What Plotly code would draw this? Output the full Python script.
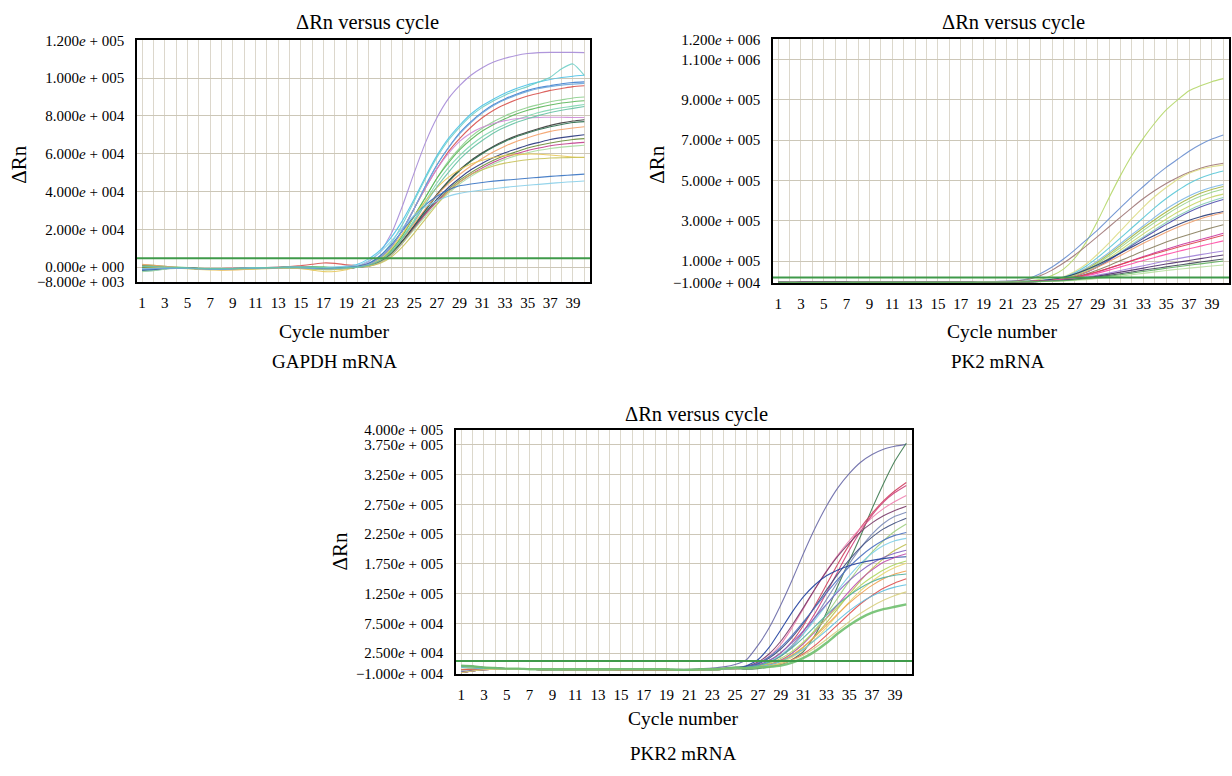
import plotly.graph_objects as go

# ---------------- DATA (values in thousands of ΔRn) ----------------
cycles = list(range(1, 41))
x_tick_vals = [1, 3, 5, 7, 9, 11, 13, 15, 17, 19, 21, 23, 25, 27, 29, 31, 33, 35, 37, 39]
x_tick_text = [str(v) for v in x_tick_vals]

# GAPDH mRNA
gapdh_01 = [-1.5,-1.2,-0.6,-0.4,-0.6,-0.9,-1.1,-1.0,-0.8,-0.6,-0.5,-0.4,-0.3,-0.1,0.1,0.0,-0.4,-0.8,-0.5, 0.5,3,8,18,33,50,66,79,89,96,101.5,105.5,108.5,110.5,112,113,113.5,113.6,113.6,113.6,113.5]
gapdh_02 = [-2.0,-1.6,-0.9,-0.5,-0.4,-0.7,-1.0,-1.1,-1.0,-0.8,-0.6,-0.5,-0.4,-0.3,-0.2,-0.4,-0.6,-0.3,0.4, 1.5,4.5,9,16,25,36,48,59,68,75,81,85.5,89,92,94.5,96.5,98,99.3,100.3,101,101.5]
gapdh_03 = [-0.8,-0.5,-0.3,-0.4,-0.7,-1.0,-1.2,-1.1,-0.9,-0.7,-0.6,-0.5,-0.4,-0.3,-0.4,-0.6,-0.9,-0.7,-0.3, 0.2,2,6,13,23,35,47,58,67,74,80,84.5,88,91,93.5,95.5,98,100.5,105,107.5,101.5]
gapdh_04 = [-2.2,-1.8,-1.0,-0.6,-0.5,-0.8,-1.0,-1.2,-1.1,-0.9,-0.7,-0.6,-0.4,-0.3,-0.5,-0.8,-1.2,-1.0,-0.5, 0,1.5,5,11,20,31,43,54,63,71,77,82,86,89,91.5,93.5,95,96,97,97.7,98]
gapdh_05 = [0.8,0.5,0.0,-0.3,-0.5,-0.7,-0.8,-0.7,-0.6,-0.5,-0.3,-0.2,0.0,0.3,0.8,1.5,2.2,2.0,1.2, 0.8,1.8,5,11,20,31,42,52,61,68,74,79,83,86,88.5,90.5,92,93.5,94.5,95.5,96]
gapdh_06 = [-1.0,-0.7,-0.4,-0.3,-0.5,-0.8,-1.0,-0.9,-0.7,-0.5,-0.3,-0.2,-0.2,-0.1,-0.3,-0.6,-0.9,-0.8,-0.4, 0,1,4,9.5,17,27,37,47,56,63,69,73.5,77,80,82.5,84.5,86,87.5,88.5,89.5,90]
gapdh_07 = [1.2,0.9,0.4,0.0,-0.3,-0.6,-0.8,-0.8,-0.7,-0.6,-0.4,-0.3,-0.2,0.0,0.2,0.3,0.1,-0.2,-0.3, 0,1,3.5,9,17,27,37,47,55,62,67.5,72,75.5,78.5,81,83,84.5,85.8,86.8,87.5,88]
gapdh_08 = [-1.8,-1.4,-0.8,-0.5,-0.6,-0.9,-1.2,-1.3,-1.2,-1.0,-0.8,-0.6,-0.5,-0.4,-0.6,-0.9,-1.3,-1.1,-0.6, 0,1,3.5,8,16,25,35,44.5,52.5,59,64.5,69,72.5,75.5,78,80,81.8,83.2,84.3,85.2,86]
gapdh_09 = [-0.5,-0.4,-0.3,-0.4,-0.6,-0.8,-0.9,-0.8,-0.6,-0.4,-0.3,-0.3,-0.2,-0.1,0.0,-0.2,-0.5,-0.4,-0.2, 0,1.5,5,11,20,31,42,52,60,66.5,71,74,76,77.5,78.5,79,79.2,79.3,79.3,79.2,79.2]
gapdh_10 = [-1.2,-1.0,-0.6,-0.5,-0.6,-0.8,-1.0,-1.0,-0.9,-0.7,-0.5,-0.4,-0.3,-0.2,-0.4,-0.7,-1.0,-0.9,-0.5, 0,0.8,3,7.5,14,22,30.5,38.5,45.5,51.5,56.5,60.5,64,67,69.5,71.5,73.3,75,76.3,77.3,78]
gapdh_11 = [-0.6,-0.5,-0.4,-0.5,-0.7,-0.9,-1.1,-1.1,-1.0,-0.8,-0.6,-0.4,-0.3,-0.3,-0.5,-0.8,-1.1,-1.0,-0.6, 0,0.8,3,7.5,14,22,30,38,45,51,56,60,63.5,66.5,69,71,72.8,74.3,75.5,76.5,77]
gapdh_12 = [1.5,1.0,0.4,-0.1,-0.5,-0.9,-1.3,-1.5,-1.4,-1.2,-0.9,-0.6,-0.4,-0.2,-0.2,-0.5,-1.0,-1.2,-0.8, 0.2,1,3.5,8,15,23,31,38,44,49,53.5,57.5,61,64,66.5,68.5,70.3,71.8,72.8,73.6,74.3]
gapdh_13 = [-1.6,-1.3,-0.8,-0.5,-0.5,-0.7,-0.9,-0.9,-0.8,-0.6,-0.5,-0.4,-0.3,-0.2,-0.3,-0.5,-0.8,-0.8,-0.5, 0,0.8,3,7.5,14,21.5,29,36,42,47,51.5,55,58,60.5,62.5,64.5,66,67.5,68.5,69.3,70]
gapdh_14 = [-0.3,-0.2,-0.2,-0.3,-0.5,-0.7,-0.8,-0.8,-0.7,-0.5,-0.4,-0.3,-0.2,-0.1,-0.1,-0.3,-0.6,-0.6,-0.4, 0,0.8,3,7,13.5,21,28.5,35,41,46,50,53.5,56.5,59,61,63,64.5,65.7,66.7,67.5,68]
gapdh_15 = [-1.0,-0.8,-0.5,-0.4,-0.5,-0.7,-0.9,-0.9,-0.8,-0.6,-0.5,-0.4,-0.3,-0.2,-0.2,-0.4,-0.7,-0.7,-0.5, 0,0.5,2.5,6.5,13,20.5,28,34.5,40,45,49,52.5,55.5,58,60,61.7,63,64.2,65,65.6,66]
gapdh_16 = [-2.4,-1.9,-1.1,-0.7,-0.6,-0.8,-1.0,-1.1,-1.2,-1.1,-0.9,-0.7,-0.5,-0.4,-0.6,-1.0,-1.4,-1.3,-0.8, 0,0.5,2.5,6.5,13,20,27,33.5,39,44,48,51.5,54.5,57,59,60.5,61.8,62.8,63.5,64,64.5]
gapdh_17 = [0.3,0.1,-0.2,-0.5,-0.8,-1.2,-1.5,-1.6,-1.5,-1.3,-1.0,-0.8,-0.6,-0.5,-0.9,-1.6,-2.4,-2.3,-1.4, 0.5,1.5,4.5,10,18,27,35,42,47.5,51.5,54.5,56.5,58,59,59.5,59.8,59.7,59.3,58.8,58.3,58]
gapdh_18 = [-0.9,-0.7,-0.5,-0.5,-0.6,-0.8,-1.0,-1.0,-0.9,-0.7,-0.6,-0.4,-0.3,-0.3,-0.5,-0.9,-1.3,-1.2,-0.7, 0,0.5,2,5.5,11,18,25.5,33,40,45,49,51.5,53.5,55,56,56.8,57.3,57.7,57.9,58,58.1]
gapdh_19 = [-1.4,-1.1,-0.7,-0.5,-0.6,-0.8,-1.0,-1.0,-0.8,-0.6,-0.4,-0.3,-0.2,-0.1,-0.2,-0.4,-0.6,-0.4,0.0, 0.5,2,6,12,19.5,27,33,37.5,40.8,43,44,44.8,45.5,46,46.5,47,47.5,48,48.4,48.8,49.2]
gapdh_20 = [-0.7,-0.6,-0.4,-0.4,-0.6,-0.8,-0.9,-0.9,-0.7,-0.5,-0.3,-0.2,-0.1,0.0,0.0,-0.1,-0.2,0.1,0.5, 1,3.5,8,14,21,27.5,32,35,37.5,39,40,40.8,41.5,42.2,42.8,43.3,43.8,44.3,44.8,45.2,45.6]
gapdh_21 = [-1.1,-0.9,-0.6,-0.5,-0.6,-0.9,-1.1,-1.2,-1.0,-0.8,-0.6,-0.5,-0.4,-0.3,-0.4,-0.7,-1.0,-0.8,-0.4, 0,1.5,5,11,20,31,43,54,63,70.5,76.5,81.5,85.5,88.5,91,93,94.5,95.5,96.3,96.8,97.2]
gapdh_22 = [0.4,0.3,0.0,-0.2,-0.4,-0.6,-0.8,-0.8,-0.7,-0.6,-0.4,-0.3,-0.2,-0.1,0.0,-0.1,-0.4,-0.5,-0.3, 0,1,3.5,8,15.5,24,33.5,42.5,50,57,62.5,67,71,74,76.5,78.5,80.3,81.8,83,84,85]
gapdh_threshold = 4.7
gapdh_y_ticks = [-8, 0, 20, 40, 60, 80, 100, 120]
gapdh_y_text = ["−8.000<i>e</i> + 003", "0.000<i>e</i> + 000", "2.000<i>e</i> + 004", "4.000<i>e</i> + 004",
                "6.000<i>e</i> + 004", "8.000<i>e</i> + 004", "1.000<i>e</i> + 005", "1.200<i>e</i> + 005"]

# PK2 mRNA
pk2_base_a = [-4,-4,-5,-5,-5,-5,-5,-4,-4,-4,-4,-4,-4,-4,-4,-4,-4,-4,-3,-3,-3,-2]
pk2_base_b = [-6,-6,-6,-6,-6,-5,-5,-5,-5,-5,-5,-5,-5,-5,-5,-5,-5,-5,-4,-4,-4,-3]
pk2_base_c = [-2,-3,-3,-3,-3,-3,-3,-3,-3,-3,-3,-3,-3,-3,-3,-3,-3,-3,-3,-3,-3,-3]
pk2_base_d = [-7,-7,-7,-6,-6,-6,-6,-6,-6,-6,-6,-6,-6,-6,-6,-6,-6,-6,-5,-5,-5,-4]
pk2_01 = [-4,-4,-5,-5,-5,-5,-5,-4,-4,-4,-4,-4,-4,-4,-4,-4,-4,-4,-3,-3,-2,-1] + [2,10,28,60,115,195,300,415,525,625,710,785,850,900,945,970,990,1005]
pk2_02 = [-6,-6,-6,-6,-5,-5,-5,-5,-5,-5,-5,-5,-5,-5,-5,-5,-4,-4,-3,-2,0,3] + [15,38,70,110,155,205,255,310,365,420,470,520,565,605,645,678,705,725]
pk2_03 = [-5,-5,-5,-5,-5,-5,-5,-5,-5,-5,-4,-4,-4,-4,-4,-4,-4,-3,-3,-2,-1,2] + [10,28,55,90,130,175,222,270,318,365,410,450,485,515,540,560,575,585]
pk2_04 = pk2_base_c + [-1,2,8,22,48,85,135,190,250,310,368,420,465,505,535,555,568,577]
pk2_05 = pk2_base_a + [-1,2,8,20,42,75,118,165,215,265,315,365,410,450,485,512,532,547]
pk2_06 = pk2_base_b + [-1,2,7,18,38,66,102,143,187,232,275,318,358,393,423,448,466,480]
pk2_07 = pk2_base_d + [-2,0,6,16,34,60,95,135,178,222,265,305,343,378,410,436,455,470]
pk2_08 = pk2_base_c + [-2,0,5,14,30,55,88,126,168,210,252,292,330,365,396,421,441,456]
pk2_09 = pk2_base_a + [-2,0,4,12,27,50,80,115,155,195,235,272,308,342,372,398,418,432]
pk2_10 = pk2_base_b + [-2,0,4,11,25,46,75,108,145,183,220,256,291,323,352,378,398,415]
pk2_11 = pk2_base_d + [-2,0,4,11,24,44,72,104,140,177,213,248,282,314,343,368,388,405]
pk2_12 = pk2_base_a + [-1,3,9,20,36,57,82,110,140,170,200,228,255,280,302,320,334,346]
pk2_13 = pk2_base_c + [-2,0,4,12,26,46,70,98,128,158,188,216,243,268,290,310,326,340]
pk2_14 = pk2_base_b + [-2,0,3,9,20,36,56,78,102,126,150,172,194,214,232,249,265,280]
pk2_15 = pk2_base_d + [-2,0,3,8,17,30,46,64,83,103,122,141,159,176,192,207,222,238]
pk2_16 = pk2_base_d + [-2,1,4,10,20,33,48,65,83,101,119,136,152,168,183,198,213,228]
pk2_17 = pk2_base_b + [-2,0,3,8,16,27,40,55,71,87,103,118,133,147,161,174,187,200]
pk2_18 = pk2_base_a + [-3,-1,2,6,12,20,30,41,53,65,77,89,101,112,122,132,141,150]
pk2_19 = pk2_base_c + [-3,-1,1,5,10,17,25,35,45,55,65,75,85,94,103,112,121,130]
pk2_20 = pk2_base_b + [-3,-1,1,4,8,14,21,29,37,46,55,63,71,79,87,95,103,110]
pk2_21 = pk2_base_a + [-3,-2,-1,1,4,8,13,19,25,32,39,46,53,59,65,70,75,80]
pk2_22 = pk2_base_d + [-3,-1,1,3,7,12,18,25,32,40,48,56,64,72,79,86,93,100]
pk2_threshold = 18
pk2_y_ticks = [-10, 100, 300, 500, 700, 900, 1100, 1200]
pk2_y_text = ["−1.000<i>e</i> + 004", "1.000<i>e</i> + 005", "3.000<i>e</i> + 005", "5.000<i>e</i> + 005",
              "7.000<i>e</i> + 005", "9.000<i>e</i> + 005", "1.100<i>e</i> + 006", "1.200<i>e</i> + 006"]

# PKR2 mRNA
pkr2_base_a = [-8,-5,-3,-2,-2,-2,-2,-3,-3,-3,-3,-3,-3,-3,-3,-3,-3,-3,-3,-3,-3,-3,-2,-1,0]
pkr2_base_b = [4,3,1,0,-1,-1,-2,-2,-2,-2,-2,-2,-2,-2,-2,-2,-2,-2,-2,-3,-3,-2,-2,-1,1]
pkr2_base_c = [-3,-2,-1,-1,-1,-2,-2,-2,-2,-3,-3,-3,-3,-3,-4,-4,-4,-4,-4,-4,-4,-3,-3,-2,-1]
pkr2_base_d = [1,0,-1,-1,-2,-2,-2,-2,-3,-3,-3,-3,-3,-3,-3,-3,-3,-3,-3,-3,-3,-3,-3,-2,-1]
pkr2_base_e = [-6,-4,-2,-2,-2,-2,-2,-2,-3,-3,-3,-3,-3,-3,-3,-3,-3,-3,-2,-2,-2,-1,0,2,6]
pkr2_01 = pkr2_base_e + [14,38,68,106,148,193,235,272,303,327,346,359,368,373,376]
pkr2_02 = pkr2_base_c + [-2,-1,2,6,14,28,55,93,138,180,222,268,310,348,378]
pkr2_03 = pkr2_base_b + [1,5,12,25,45,72,105,140,175,207,236,260,281,298,312]
pkr2_04 = pkr2_base_d + [2,8,20,40,68,100,133,163,190,214,235,253,268,280,290]
pkr2_05 = pkr2_base_a + [0,3,9,20,38,62,92,126,162,198,230,257,279,295,307]
pkr2_06 = pkr2_base_b + [3,10,24,45,72,102,133,162,188,210,229,244,256,265,272]
pkr2_07 = pkr2_base_c + [1,4,10,20,36,58,85,115,145,175,202,225,243,255,262]
pkr2_08 = pkr2_base_a + [2,7,17,32,52,76,103,131,158,182,203,220,234,244,252]
pkr2_09 = pkr2_base_d + [0,2,6,13,25,42,64,90,118,146,172,195,214,230,242]
pkr2_10 = pkr2_base_b + [2,8,19,35,55,78,102,126,149,170,188,203,215,223,228]
pkr2_11 = pkr2_base_c + [1,4,11,22,38,58,81,106,131,155,176,193,206,214,218]
pkr2_12 = pkr2_base_d + [0,2,5,11,21,35,54,76,100,124,147,167,184,198,208]
pkr2_13 = pkr2_base_a + [1,5,13,26,43,63,85,107,128,147,163,176,186,193,198]
pkr2_14 = pkr2_base_a + [4,14,35,64,94,120,140,155,165,172,177,181,184,186,187]
pkr2_15 = pkr2_base_b + [0,2,6,13,25,41,61,84,107,129,149,165,178,186,192]
pkr2_16 = pkr2_base_c + [1,3,8,16,28,44,63,83,103,122,139,153,165,174,180]
pkr2_17 = pkr2_base_d + [0,1,4,9,18,31,48,68,90,111,130,146,159,169,176]
pkr2_18 = pkr2_base_a + [0,2,6,12,22,36,53,72,91,109,125,139,150,158,163]
pkr2_19 = pkr2_base_b + [1,4,10,20,34,51,70,89,107,122,135,145,152,156,158]
pkr2_20 = pkr2_base_c + [0,1,3,7,14,24,38,55,73,91,108,122,134,143,150]
pkr2_21 = pkr2_base_d + [0,2,5,11,20,32,47,63,80,96,110,121,130,136,140]
pkr2_22 = pkr2_base_a + [0,1,3,7,13,22,34,48,63,78,92,104,114,122,128]
pkr2_23 = pkr2_base_b + [0,1,2,4,9,17,28,42,58,72,84,93,99,103,107]
pkr2_threshold = 12
pkr2_y_ticks = [-10, 25, 75, 125, 175, 225, 275, 325, 375, 400]
pkr2_y_text = ["−1.000<i>e</i> + 004", "2.500<i>e</i> + 004", "7.500<i>e</i> + 004", "1.250<i>e</i> + 005",
               "1.750<i>e</i> + 005", "2.250<i>e</i> + 005", "2.750<i>e</i> + 005", "3.250<i>e</i> + 005",
               "3.750<i>e</i> + 005", "4.000<i>e</i> + 005"]

# ---------------- STYLE ----------------
gapdh_colors = ["#a78bd8", "#4fc3e8", "#6fd0c8", "#3f7fcf", "#d9534f", "#8fd18f", "#5cb85c", "#7fd6b0",
                "#cf8ad8", "#3c3c3c", "#2f6f4f", "#f5a26b", "#2b3a80", "#6b8e3a", "#c2408f", "#a8dca0",
                "#e8c95a", "#c9c35a", "#3a75c4", "#8ad0ea", "#6fa8dc", "#66c2a5"]
pk2_colors = ["#b5d86a", "#6a8fd0", "#a07878", "#dede88", "#5bc8d8", "#7fb8e8", "#a8b848", "#9ad48a",
              "#c8d86a", "#88d0b8", "#5050b0", "#283c78", "#f0a070", "#8a8060", "#c83aa0", "#e04050",
              "#ff4da6", "#a080d8", "#503070", "#404858", "#b8e0a0", "#60b060"]
pkr2_colors = ["#6a6aa8", "#3d7a50", "#d04060", "#f080b0", "#d0407a", "#7a3a6a", "#7a8ab8", "#405080",
               "#a0d080", "#4a70c0", "#80d0e8", "#c0c050", "#8060c0", "#2040a0", "#c050b0", "#b0d860",
               "#e8d870", "#f0a050", "#50b0a0", "#e05050", "#60c0e0", "#d8d080", "#70c070"]

gapdh_series = [gapdh_01, gapdh_02, gapdh_03, gapdh_04, gapdh_05, gapdh_06, gapdh_07, gapdh_08, gapdh_09,
                gapdh_10, gapdh_11, gapdh_12, gapdh_13, gapdh_14, gapdh_15, gapdh_16, gapdh_17, gapdh_18,
                gapdh_19, gapdh_20, gapdh_21, gapdh_22]
pk2_series = [pk2_01, pk2_02, pk2_03, pk2_04, pk2_05, pk2_06, pk2_07, pk2_08, pk2_09, pk2_10, pk2_11,
              pk2_12, pk2_13, pk2_14, pk2_15, pk2_16, pk2_17, pk2_18, pk2_19, pk2_20, pk2_21, pk2_22]
pkr2_series = [pkr2_01, pkr2_02, pkr2_03, pkr2_04, pkr2_05, pkr2_06, pkr2_07, pkr2_08, pkr2_09, pkr2_10,
               pkr2_11, pkr2_12, pkr2_13, pkr2_14, pkr2_15, pkr2_16, pkr2_17, pkr2_18, pkr2_19, pkr2_20,
               pkr2_21, pkr2_22, pkr2_23]
for s in gapdh_series + pk2_series + pkr2_series:
    assert len(s) == 40, len(s)

W, H = 1232, 776
FONT = "Liberation Serif"


def fx(px):
    return px / W


def fy(py):
    return 1 - py / H


panels = [
    (gapdh_series, gapdh_colors, gapdh_threshold, gapdh_y_ticks, gapdh_y_text, [-8, 120], 137, 590, 33, 280),
    (pk2_series, pk2_colors, pk2_threshold, pk2_y_ticks, pk2_y_text, [-10, 1200], 773, 1229, 32, 281),
    (pkr2_series, pkr2_colors, pkr2_threshold, pkr2_y_ticks, pkr2_y_text, [-10, 400], 456, 912, 431, 680),
]

fig = go.Figure()
layout_axes = {}
shapes = []
for i, (series, colors, thr, yt, ytxt, yr, L, R, T, B) in enumerate(panels):
    n = "" if i == 0 else str(i + 1)
    for j, s in enumerate(series):
        width = 2.4 if (i == 2 and j == len(series) - 1) else 1.1
        fig.add_trace(go.Scatter(x=cycles, y=s, mode="lines", xaxis="x" + n, yaxis="y" + n,
                                 line=dict(color=colors[j], width=width, shape="spline", smoothing=0.5),
                                 opacity=0.9, hoverinfo="skip"))
    layout_axes["xaxis" + n] = dict(
        domain=[fx(L), fx(R)], anchor="y" + n, range=[0.55, 40.5],
        tickmode="array", tickvals=x_tick_vals, ticktext=x_tick_text,
        showgrid=True, gridcolor="#dcd8cc", gridwidth=1,
        minor=dict(dtick=1, tick0=0, showgrid=True, gridcolor="#dcd8cc", gridwidth=1),
        showline=True, linecolor="black", linewidth=1.5, mirror=True,
        ticks="", ticklabelstandoff=6, zeroline=False, fixedrange=True,
        tickfont=dict(family=FONT, size=15, color="black"))
    layout_axes["yaxis" + n] = dict(
        domain=[fy(B), fy(T)], anchor="x" + n, range=yr,
        tickmode="array", tickvals=yt, ticktext=ytxt,
        showgrid=True, gridcolor="#cdc7b8", gridwidth=1,
        showline=True, linecolor="black", linewidth=1.5, mirror=True,
        ticks="", ticklabelstandoff=8, zeroline=False, fixedrange=True,
        tickfont=dict(family=FONT, size=15, color="black"))
    shapes.append(dict(type="line", xref="x" + n + " domain", yref="y" + n, x0=0, x1=1, y0=thr, y1=thr,
                       line=dict(color="#3f9a4a", width=2)))

texts = [
    ("ΔRn versus cycle", 367, 15, 20.5, 0),
    ("ΔRn versus cycle", 1013, 15, 20.5, 0),
    ("ΔRn versus cycle", 696, 415, 20.5, 0),
    ("Cycle number", 334, 330, 19.5, 0),
    ("GAPDH mRNA", 334, 361, 19, 0),
    ("Cycle number", 1002, 330, 19.5, 0),
    ("PK2 mRNA", 998, 361, 19, 0),
    ("Cycle number", 683, 725, 19.5, 0),
    ("PKR2 mRNA", 683, 761, 19, 0),
    ("ΔRn", 19, 160, 21, -90),
    ("ΔRn", 657, 160, 21, -90),
    ("ΔRn", 340, 555, 21, -90),
]
annotations = [dict(text=t, x=fx(x), y=fy(y), xref="paper", yref="paper", xanchor="center", yanchor="middle",
                    showarrow=False, textangle=a, font=dict(family=FONT, size=sz, color="black"))
               for (t, x, y, sz, a) in texts]

fig.update_layout(width=W, height=H, margin=dict(l=0, r=0, t=0, b=0),
                  plot_bgcolor="white", paper_bgcolor="white", showlegend=False,
                  font=dict(family=FONT, color="black"),
                  shapes=shapes, annotations=annotations, **layout_axes)

fig.write_html("out.html", config={"displayModeBar": False},
               post_script="document.body.style.margin='0';document.body.style.overflow='hidden';")
